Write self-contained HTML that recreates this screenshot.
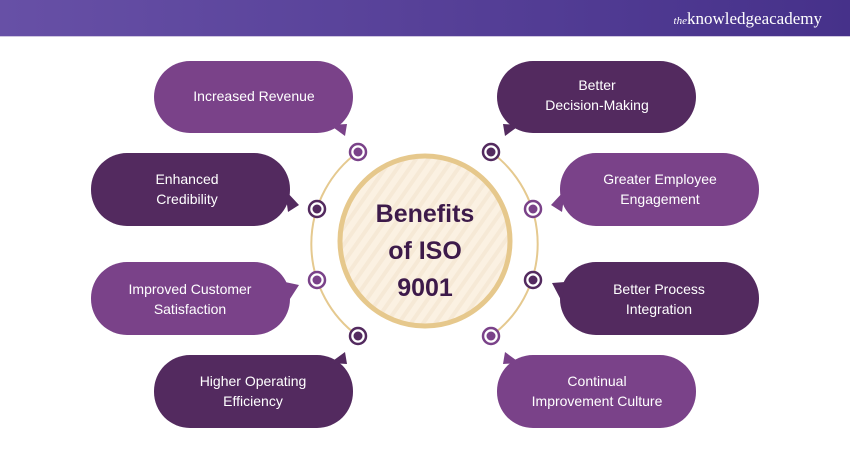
<!DOCTYPE html>
<html><head><meta charset="utf-8"><style>
html,body{margin:0;padding:0;background:#fff;}
svg{display:block;}
</style></head><body>
<svg width="850" height="450" viewBox="0 0 850 450" xmlns="http://www.w3.org/2000/svg" font-family="Liberation Sans, sans-serif">
<defs>
<linearGradient id="hg" x1="0" x2="1" y1="0" y2="0">
<stop offset="0" stop-color="#6750a6"/><stop offset="1" stop-color="#46318a"/>
</linearGradient>
<pattern id="st" width="10" height="10" patternUnits="userSpaceOnUse" patternTransform="rotate(35)">
<rect width="10" height="10" fill="#fbf1e2"/><rect width="4" height="10" fill="#f6e9d6"/>
</pattern>
</defs>
<rect x="0" y="0" width="850" height="36" fill="url(#hg)"/>
<rect x="0" y="36" width="850" height="1" fill="#cfc6e0"/>
<text x="822" y="24" text-anchor="end" fill="#fff" font-family="Liberation Serif, serif" font-size="17"><tspan font-style="italic" font-size="11">the</tspan>knowledgeacademy</text>

<!-- arcs -->
<path d="M358 152 A114 114 0 0 0 358 336" fill="none" stroke="#e5c98f" stroke-width="2"/>
<path d="M491 152 A114 114 0 0 1 491 336" fill="none" stroke="#e5c98f" stroke-width="2"/>

<!-- center -->
<circle cx="425" cy="241" r="85" fill="url(#st)" stroke="#e6c88c" stroke-width="5"/>
<g fill="#3d1a4a" font-weight="bold" font-size="25" text-anchor="middle">
<text x="425" y="222">Benefits</text>
<text x="425" y="259">of ISO</text>
<text x="425" y="296">9001</text>
</g>

<!-- bubbles -->
<g font-size="14" fill="#fff" text-anchor="middle">
<rect x="154" y="61" width="199" height="72" rx="36" fill="#7a4289"/>
<polygon points="330,125 347,124 345,136" fill="#7a4289"/>
<text x="254" y="101">Increased Revenue</text>

<rect x="91" y="153" width="199" height="73" rx="36" fill="#532a5f"/>
<polygon points="285,190 288,212 299,205" fill="#532a5f"/>
<text x="187" y="184">Enhanced</text><text x="187" y="204">Credibility</text>

<rect x="91" y="262" width="199" height="73" rx="36" fill="#7a4289"/>
<polygon points="285,282 288,302 299,285" fill="#7a4289"/>
<text x="190" y="294">Improved Customer</text><text x="190" y="314">Satisfaction</text>

<rect x="154" y="355" width="199" height="73" rx="36" fill="#532a5f"/>
<polygon points="330,363 347,364 345,352" fill="#532a5f"/>
<text x="253" y="386">Higher Operating</text><text x="253" y="406">Efficiency</text>

<rect x="497" y="61" width="199" height="72" rx="36" fill="#532a5f"/>
<polygon points="520,125 503,124 505,136" fill="#532a5f"/>
<text x="597" y="90">Better</text><text x="597" y="110">Decision-Making</text>

<rect x="560" y="153" width="199" height="73" rx="36" fill="#7a4289"/>
<polygon points="565,190 562,212 551,205" fill="#7a4289"/>
<text x="660" y="184">Greater Employee</text><text x="660" y="204">Engagement</text>

<rect x="560" y="262" width="199" height="73" rx="36" fill="#532a5f"/>
<polygon points="565,282 562,302 552,283" fill="#532a5f"/>
<text x="659" y="294">Better Process</text><text x="659" y="314">Integration</text>

<rect x="497" y="355" width="199" height="73" rx="36" fill="#7a4289"/>
<polygon points="520,363 503,364 505,352" fill="#7a4289"/>
<text x="597" y="386">Continual</text><text x="597" y="406">Improvement Culture</text>
</g>

<!-- dots -->
<g stroke-width="2.5" fill="#fff">
<circle cx="358" cy="152" r="8" stroke="#7a4289"/>
<circle cx="317" cy="209" r="8" stroke="#532a5f"/>
<circle cx="317" cy="280" r="8" stroke="#7a4289"/>
<circle cx="358" cy="336" r="8" stroke="#532a5f"/>
<circle cx="491" cy="152" r="8" stroke="#532a5f"/>
<circle cx="533" cy="209" r="8" stroke="#7a4289"/>
<circle cx="533" cy="280" r="8" stroke="#532a5f"/>
<circle cx="491" cy="336" r="8" stroke="#7a4289"/>
</g>
<circle cx="358" cy="152" r="4.5" fill="#7a4289"/>
<circle cx="317" cy="209" r="4.5" fill="#532a5f"/>
<circle cx="317" cy="280" r="4.5" fill="#7a4289"/>
<circle cx="358" cy="336" r="4.5" fill="#532a5f"/>
<circle cx="491" cy="152" r="4.5" fill="#532a5f"/>
<circle cx="533" cy="209" r="4.5" fill="#7a4289"/>
<circle cx="533" cy="280" r="4.5" fill="#532a5f"/>
<circle cx="491" cy="336" r="4.5" fill="#7a4289"/>
</svg>
</body></html>
